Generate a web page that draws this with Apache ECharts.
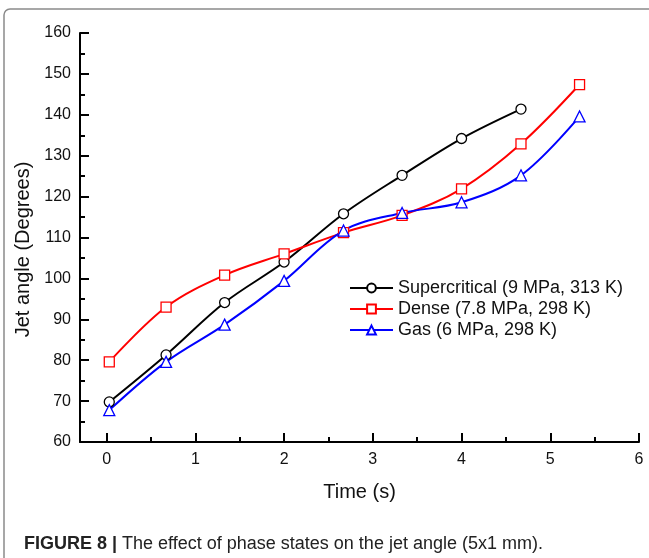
<!DOCTYPE html>
<html>
<head>
<meta charset="utf-8">
<script src="https://cdn.jsdelivr.net/npm/echarts@6/dist/echarts.min.js"></script>
<style>
  html, body { margin: 0; padding: 0; background: #fff; }
  #chart { width: 649px; height: 558px; }
</style>
</head>
<body>
<div id="chart"></div>
<script>
// time points (s)
var timeSuper = [0.03, 0.67, 1.33, 2, 2.67, 3.33, 4, 4.67];
var timeDense = [0.03, 0.67, 1.33, 2, 2.67, 3.33, 4, 4.67, 5.33];
var timeGas = [0.03, 0.67, 1.33, 2, 2.67, 3.33, 4, 4.67, 5.33];

// jet angle (degrees)
var angleSuper = [69.8, 81.3, 94.1, 104.0, 115.8, 125.2, 134.2, 141.4];
var angleDense = [79.6, 93.0, 100.8, 106.0, 111.2, 115.4, 121.9, 132.9, 147.4];
var angleGas = [67.8, 79.6, 88.7, 99.4, 111.7, 116.0, 118.6, 125.2, 139.6];

var names = ['Supercritical (9 MPa, 313 K)', 'Dense (7.8 MPa, 298 K)', 'Gas (6 MPa, 298 K)'];
var xMajor = [0, 1, 2, 3, 4, 5, 6];
var xMinor = [0.5, 1.5, 2.5, 3.5, 4.5, 5.5];

function pairs(xs, ys) {
    var out = [];
    for (var i = 0; i < xs.length; i++) out.push([xs[i], ys[i]]);
    return out;
}

var font = 'Liberation Sans, Arial, sans-serif';
var chart = echarts.init(document.getElementById('chart'));

function mkSeries(name, data, color, symbol, size) {
    return {
        name: name,
        type: 'line',
        data: data,
        smooth: 0.35,
        symbol: symbol,
        symbolSize: size,
        showAllSymbol: true,
        lineStyle: { color: color, width: 2 },
        itemStyle: { color: '#fff', borderColor: color, borderWidth: 1.3 },
        emphasis: { disabled: true },
        z: 3
    };
}

var option = {
    backgroundColor: '#fff',
    animation: false,
    textStyle: { fontFamily: font },
    title: {
        left: 19,
        top: 530,
        text: '{b|FIGURE 8 |} {r|The effect of phase states on the jet angle (5x1 mm).}',
        textStyle: {
            fontWeight: 'normal',
            rich: {
                b: { fontFamily: font, fontWeight: 'bold', fontSize: 18, color: '#222' },
                r: { fontFamily: font, fontWeight: 'normal', fontSize: 18, color: '#222' }
            }
        }
    },
    graphic: [{
        type: 'rect',
        shape: { x: 4, y: 9, width: 700, height: 600, r: 6 },
        style: { fill: 'none', stroke: '#8a8a8a', lineWidth: 1.5 },
        silent: true
    }],
    legend: {
        orient: 'vertical',
        left: 349,
        top: 279,
        padding: 0,
        itemWidth: 43,
        itemHeight: 11,
        itemGap: 3,
        textStyle: { fontFamily: font, fontSize: 18, color: '#111' },
        data: names
    },
    grid: { left: 80, right: 10, top: 33, bottom: 116 },
    xAxis: [{
        type: 'value',
        min: -0.3,
        max: 6,
        name: 'Time (s)',
        nameLocation: 'middle',
        nameGap: 40,
        nameTextStyle: { fontFamily: font, fontSize: 20, color: '#111' },
        axisLine: { show: true, onZero: false, lineStyle: { color: '#000', width: 2 } },
        axisTick: { show: true, inside: true, length: 9, customValues: xMajor, lineStyle: { color: '#000', width: 2 } },
        axisLabel: { customValues: xMajor, fontFamily: font, fontSize: 16, color: '#111', margin: 10 },
        splitLine: { show: false }
    }, {
        type: 'value',
        min: -0.3,
        max: 6,
        position: 'bottom',
        axisLine: { show: false, onZero: false },
        axisTick: { show: true, inside: true, length: 5, customValues: xMinor, lineStyle: { color: '#000', width: 2 } },
        axisLabel: { show: false },
        splitLine: { show: false }
    }],
    yAxis: {
        type: 'value',
        min: 60,
        max: 160,
        interval: 10,
        name: 'Jet angle (Degrees)',
        nameLocation: 'middle',
        nameGap: 47,
        nameTextStyle: { fontFamily: font, fontSize: 20, color: '#111', padding: [0, 24, 0, 0] },
        axisLine: { show: true, onZero: false, lineStyle: { color: '#000', width: 2 } },
        axisTick: { show: true, inside: true, length: 9, lineStyle: { color: '#000', width: 2 } },
        minorTick: { show: true, splitNumber: 2, length: 5, lineStyle: { color: '#000', width: 2 } },
        axisLabel: { fontFamily: font, fontSize: 16, color: '#111', margin: 9 },
        splitLine: { show: false }
    },
    series: [
        mkSeries(names[0], pairs(timeSuper, angleSuper), '#000000', 'circle', 10),
        mkSeries(names[1], pairs(timeDense, angleDense), '#ff0000', 'rect', 10),
        mkSeries(names[2], pairs(timeGas, angleGas), '#0000ff', 'triangle', 11)
    ]
};

chart.setOption(option);
</script>
</body>
</html>
